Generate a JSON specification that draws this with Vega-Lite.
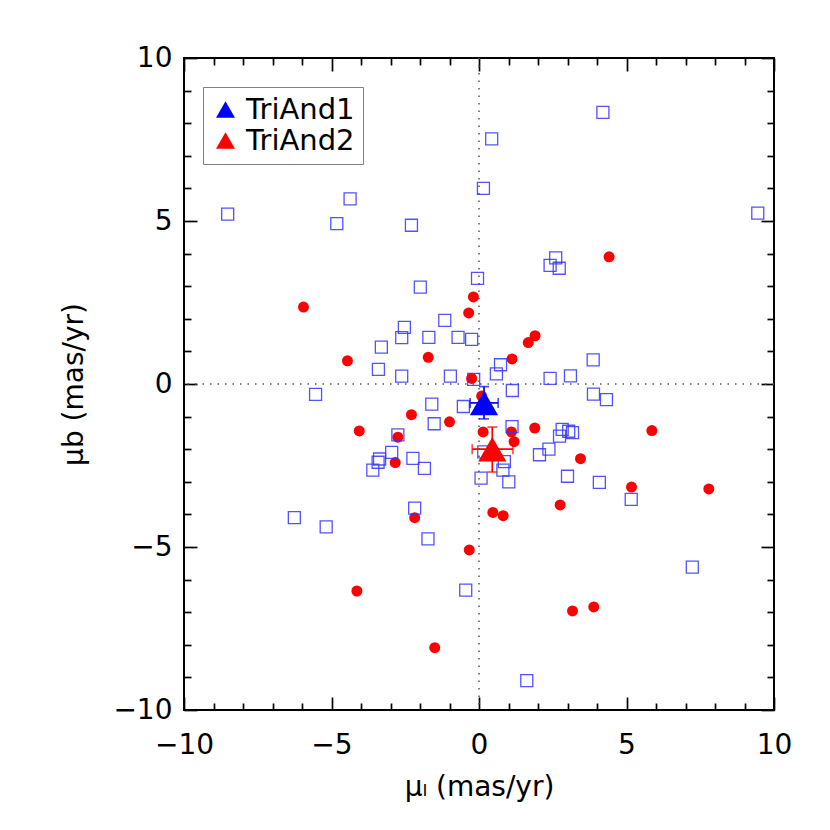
{
  "$schema": "https://vega.github.io/schema/vega-lite/v6.json",
  "width": 590,
  "height": 652,
  "autosize": "none",
  "padding": {"left": 184, "top": 58, "right": 56, "bottom": 120},
  "background": "white",
  "config": {
    "view": {"stroke": "black", "strokeWidth": 2},
    "font": "DejaVu Sans"
  },
  "datasets": {
    "squares": [
      {"mu_l": -8.52, "mu_b": 5.21}, {"mu_l": -4.37, "mu_b": 5.68}, {"mu_l": -4.82, "mu_b": 4.92},
      {"mu_l": -2.29, "mu_b": 4.87}, {"mu_l": 0.15, "mu_b": 6.0}, {"mu_l": 0.43, "mu_b": 7.52},
      {"mu_l": 4.2, "mu_b": 8.33}, {"mu_l": 9.45, "mu_b": 5.24}, {"mu_l": 2.6, "mu_b": 3.87},
      {"mu_l": 2.41, "mu_b": 3.64}, {"mu_l": 2.72, "mu_b": 3.55}, {"mu_l": -0.05, "mu_b": 3.24},
      {"mu_l": -1.99, "mu_b": 2.97}, {"mu_l": -1.16, "mu_b": 1.95}, {"mu_l": -2.53, "mu_b": 1.74},
      {"mu_l": -2.62, "mu_b": 1.42}, {"mu_l": -1.7, "mu_b": 1.43}, {"mu_l": -0.71, "mu_b": 1.43},
      {"mu_l": -0.25, "mu_b": 1.37}, {"mu_l": -3.31, "mu_b": 1.13}, {"mu_l": -3.41, "mu_b": 0.45},
      {"mu_l": -2.62, "mu_b": 0.24}, {"mu_l": -0.97, "mu_b": 0.24}, {"mu_l": -0.18, "mu_b": 0.14},
      {"mu_l": -5.54, "mu_b": -0.32}, {"mu_l": -1.6, "mu_b": -0.62}, {"mu_l": -0.53, "mu_b": -0.69},
      {"mu_l": -1.52, "mu_b": -1.22}, {"mu_l": -2.75, "mu_b": -1.56}, {"mu_l": -2.96, "mu_b": -2.1},
      {"mu_l": -3.37, "mu_b": -2.3}, {"mu_l": -3.42, "mu_b": -2.4}, {"mu_l": -3.6, "mu_b": -2.64},
      {"mu_l": -2.24, "mu_b": -2.28}, {"mu_l": -1.85, "mu_b": -2.59}, {"mu_l": 0.07, "mu_b": -2.89},
      {"mu_l": 0.73, "mu_b": 0.59}, {"mu_l": 0.59, "mu_b": 0.31}, {"mu_l": 3.87, "mu_b": 0.74},
      {"mu_l": 2.41, "mu_b": 0.17}, {"mu_l": 3.1, "mu_b": 0.25}, {"mu_l": 1.13, "mu_b": -0.2},
      {"mu_l": 3.88, "mu_b": -0.31}, {"mu_l": 4.32, "mu_b": -0.48}, {"mu_l": 1.12, "mu_b": -1.31},
      {"mu_l": 2.82, "mu_b": -1.39}, {"mu_l": 3.04, "mu_b": -1.45}, {"mu_l": 3.17, "mu_b": -1.49},
      {"mu_l": 2.73, "mu_b": -1.6}, {"mu_l": 2.37, "mu_b": -2.0}, {"mu_l": 2.05, "mu_b": -2.17},
      {"mu_l": 0.16, "mu_b": -2.08}, {"mu_l": 0.86, "mu_b": -2.38}, {"mu_l": 0.81, "mu_b": -2.64},
      {"mu_l": 1.01, "mu_b": -3.0}, {"mu_l": 3.0, "mu_b": -2.83}, {"mu_l": 4.08, "mu_b": -3.02},
      {"mu_l": -6.26, "mu_b": -4.1}, {"mu_l": -5.18, "mu_b": -4.38}, {"mu_l": -2.18, "mu_b": -3.81},
      {"mu_l": -1.73, "mu_b": -4.75}, {"mu_l": -0.45, "mu_b": -6.32}, {"mu_l": 5.16, "mu_b": -3.54},
      {"mu_l": 7.23, "mu_b": -5.62}, {"mu_l": 1.62, "mu_b": -9.1}
    ],
    "circles": [
      {"mu_l": 4.41, "mu_b": 3.9}, {"mu_l": -0.19, "mu_b": 2.67}, {"mu_l": -5.95, "mu_b": 2.36},
      {"mu_l": -0.35, "mu_b": 2.18}, {"mu_l": -4.46, "mu_b": 0.71}, {"mu_l": -1.72, "mu_b": 0.82},
      {"mu_l": -0.25, "mu_b": 0.17}, {"mu_l": 0.09, "mu_b": -0.37}, {"mu_l": -2.29, "mu_b": -0.94},
      {"mu_l": -1.0, "mu_b": -1.16}, {"mu_l": -4.06, "mu_b": -1.44}, {"mu_l": -2.75, "mu_b": -1.63},
      {"mu_l": -2.84, "mu_b": -2.41}, {"mu_l": 0.14, "mu_b": -1.47}, {"mu_l": 1.9, "mu_b": 1.48},
      {"mu_l": 1.67, "mu_b": 1.27}, {"mu_l": 1.12, "mu_b": 0.77}, {"mu_l": 1.1, "mu_b": -1.47},
      {"mu_l": 1.19, "mu_b": -1.77}, {"mu_l": 1.89, "mu_b": -1.35}, {"mu_l": 5.86, "mu_b": -1.43},
      {"mu_l": 3.44, "mu_b": -2.29}, {"mu_l": 5.17, "mu_b": -3.16}, {"mu_l": 7.79, "mu_b": -3.22},
      {"mu_l": -2.18, "mu_b": -4.1}, {"mu_l": -0.33, "mu_b": -5.09}, {"mu_l": -4.14, "mu_b": -6.35},
      {"mu_l": -1.5, "mu_b": -8.09}, {"mu_l": 0.47, "mu_b": -3.94}, {"mu_l": 0.82, "mu_b": -4.04},
      {"mu_l": 2.75, "mu_b": -3.71}, {"mu_l": 3.17, "mu_b": -6.96}, {"mu_l": 3.89, "mu_b": -6.84}
    ],
    "means": [
      {"name": "TriAnd1", "mu_l": 0.17, "mu_b": -0.58, "l_lo": -0.3, "l_hi": 0.65, "b_lo": -1.07, "b_hi": -0.08},
      {"name": "TriAnd2", "mu_l": 0.45, "mu_b": -2.0, "l_lo": -0.23, "l_hi": 1.15, "b_lo": -2.7, "b_hi": -1.32}
    ]
  },
  "layer": [
    {
      "data": {"values": [{"v": 0}]},
      "mark": {"type": "rule", "color": "#555555", "strokeWidth": 1.5, "strokeDash": [1.5, 6]},
      "encoding": {"x": {"field": "v", "type": "quantitative", "scale": {"domain": [-10, 10]}, "axis": null}}
    },
    {
      "data": {"values": [{"v": 0}]},
      "mark": {"type": "rule", "color": "#555555", "strokeWidth": 1.5, "strokeDash": [1.5, 6]},
      "encoding": {"y": {"field": "v", "type": "quantitative", "scale": {"domain": [-10, 10]}, "axis": null}}
    },
    {
      "data": {"name": "circles"},
      "mark": {"type": "point", "shape": "circle", "filled": true, "size": 121, "color": "#ff0000", "opacity": 1},
      "encoding": {
        "x": {"field": "mu_l", "type": "quantitative", "scale": {"domain": [-10, 10]},
          "axis": {"orient": "top", "values": [-10,-9,-8,-7,-6,-5,-4,-3,-2,-1,0,1,2,3,4,5,6,7,8,9,10],
            "tickSize": {"condition": {"test": "datum.value % 5 === 0", "value": -13}, "value": -7},
            "tickWidth": 1.7, "tickColor": "black", "domain": false, "grid": false, "labels": false, "title": null}},
        "y": {"field": "mu_b", "type": "quantitative", "scale": {"domain": [-10, 10]},
          "axis": {"orient": "right", "values": [-10,-9,-8,-7,-6,-5,-4,-3,-2,-1,0,1,2,3,4,5,6,7,8,9,10],
            "tickSize": {"condition": {"test": "datum.value % 5 === 0", "value": -13}, "value": -7},
            "tickWidth": 1.7, "tickColor": "black", "domain": false, "grid": false, "labels": false, "title": null}}
      }
    },
    {
      "data": {"name": "squares"},
      "mark": {"type": "point", "shape": "square", "filled": false, "size": 144, "color": "#3535ff", "strokeWidth": 1.3, "opacity": 0.85},
      "encoding": {
        "x": {"field": "mu_l", "type": "quantitative", "scale": {"domain": [-10, 10]},
          "axis": {"orient": "bottom", "values": [-10,-9,-8,-7,-6,-5,-4,-3,-2,-1,0,1,2,3,4,5,6,7,8,9,10],
            "tickSize": {"condition": {"test": "datum.value % 5 === 0", "value": -13}, "value": -7},
            "tickWidth": 1.7, "tickColor": "black", "domain": false, "grid": false,
            "labelFlush": false, "labelOverlap": false,
            "labelExpr": "datum.value % 5 === 0 ? datum.label : ''",
            "labelFontSize": 28, "labelColor": "black", "labelPadding": 34, "labelFont": "DejaVu Sans",
            "title": "μₗ (mas/yr)", "titleFontSize": 28, "titleFontWeight": "normal", "titleColor": "black", "titleFont": "DejaVu Sans", "titlePadding": 8}},
        "y": {"field": "mu_b", "type": "quantitative", "scale": {"domain": [-10, 10]},
          "axis": {"orient": "left", "values": [-10,-9,-8,-7,-6,-5,-4,-3,-2,-1,0,1,2,3,4,5,6,7,8,9,10],
            "tickSize": {"condition": {"test": "datum.value % 5 === 0", "value": -13}, "value": -7},
            "tickWidth": 1.7, "tickColor": "black", "domain": false, "grid": false,
            "labelFlush": false, "labelOverlap": false,
            "labelExpr": "datum.value % 5 === 0 ? datum.label : ''",
            "labelFontSize": 28, "labelColor": "black", "labelPadding": 25, "labelFont": "DejaVu Sans",
            "title": "μb (mas/yr)", "titleFontSize": 28, "titleFontWeight": "normal", "titleColor": "black", "titleFont": "DejaVu Sans", "titlePadding": 24}}
      }
    },
    {
      "data": {"name": "means"},
      "mark": {"type": "rule", "strokeWidth": 1.7},
      "encoding": {
        "x": {"field": "l_lo", "type": "quantitative", "axis": null},
        "x2": {"field": "l_hi"},
        "y": {"field": "mu_b", "type": "quantitative", "axis": null},
        "color": {"field": "name", "type": "nominal", "scale": {"domain": ["TriAnd1", "TriAnd2"], "range": ["#0000ff", "#ff0000"]}, "legend": null}
      }
    },
    {
      "data": {"name": "means"},
      "mark": {"type": "rule", "strokeWidth": 1.7},
      "encoding": {
        "y": {"field": "b_lo", "type": "quantitative", "axis": null},
        "y2": {"field": "b_hi"},
        "x": {"field": "mu_l", "type": "quantitative", "axis": null},
        "color": {"field": "name", "type": "nominal", "legend": null}
      }
    },
    {
      "data": {"name": "means"},
      "transform": [{"fold": ["l_lo", "l_hi"], "as": ["end", "lv"]}],
      "mark": {"type": "tick", "orient": "vertical", "size": 10, "thickness": 1.7},
      "encoding": {
        "x": {"field": "lv", "type": "quantitative", "axis": null},
        "y": {"field": "mu_b", "type": "quantitative", "axis": null},
        "color": {"field": "name", "type": "nominal", "legend": null}
      }
    },
    {
      "data": {"name": "means"},
      "transform": [{"fold": ["b_lo", "b_hi"], "as": ["end", "bv"]}],
      "mark": {"type": "tick", "orient": "horizontal", "size": 10, "thickness": 1.7},
      "encoding": {
        "y": {"field": "bv", "type": "quantitative", "axis": null},
        "x": {"field": "mu_l", "type": "quantitative", "axis": null},
        "color": {"field": "name", "type": "nominal", "legend": null}
      }
    },
    {
      "data": {"name": "means"},
      "mark": {"type": "point", "shape": "triangle-up", "filled": true, "size": 800, "opacity": 1},
      "encoding": {
        "x": {"field": "mu_l", "type": "quantitative", "axis": null},
        "y": {"field": "mu_b", "type": "quantitative", "axis": null},
        "color": {"field": "name", "type": "nominal",
          "legend": {"orient": "none", "legendX": 19, "legendY": 29, "title": null,
            "strokeColor": "#808080", "fillColor": "white", "padding": 8,
            "symbolType": "triangle-up", "symbolSize": 360, "symbolStrokeWidth": 0, "symbolOpacity": 1,
            "labelFontSize": 29, "labelFont": "DejaVu Sans", "labelColor": "black", "labelOffset": 6, "rowPadding": 1}}
      }
    }
  ],
  "resolve": {"axis": {"x": "independent", "y": "independent"}, "legend": {"color": "independent"}}
}
